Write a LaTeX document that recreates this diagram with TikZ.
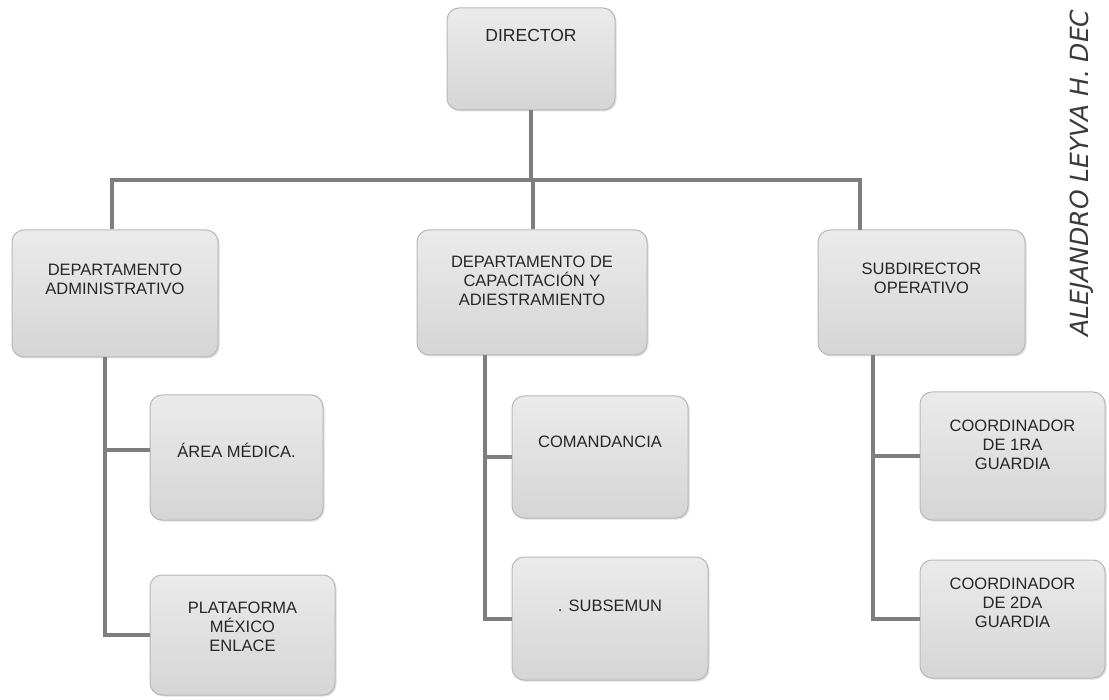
\documentclass[tikz,border=0pt]{standalone}
\usepackage{fontspec}
\setmainfont{Liberation Sans}
\newfontfamily\handfont{DejaVu Sans}
\usetikzlibrary{calc,shadows}
\definecolor{boxfill}{HTML}{E2E2E2}
\definecolor{boxfillb}{HTML}{D5D5D5}
\definecolor{boxline}{HTML}{B8B8B8}
\definecolor{connc}{HTML}{7E7E7E}
\definecolor{inkc}{HTML}{3A3A3A}
\tikzset{
  orgbox/.style={draw=boxline, line width=1pt, rounded corners=12pt,
    top color=boxfill!70!white, bottom color=boxfillb,
    drop shadow={opacity=0.25, shadow xshift=1.5pt, shadow yshift=-1.5pt},
    inner sep=0pt},
  lbl/.style={align=center, font=\fontsize{16.5}{19}\selectfont, text=black!85},
  conn/.style={draw=connc, line width=4pt},
  hand/.style={font=\handfont\itshape\fontsize{25}{27}\selectfont, text=inkc, rotate=90, anchor=west}
}
\begin{document}
\begin{tikzpicture}[x=1pt,y=-1pt]
\useasboundingbox (0,0) rectangle (1109,700);
\fill[white] (0,0) rectangle (1109,700);

\coordinate (admt) at (112,230);
\coordinate (capt) at (533,230);
\coordinate (subt) at (860,230);
\coordinate (admb) at (105,357);
\coordinate (capb) at (485,355);
\coordinate (subb) at (873,355);

% boxes
\node[orgbox, minimum width=168, minimum height=102] (dir) at (531,59) {};
\node[orgbox, minimum width=206, minimum height=127] (adm) at (115,293.5) {};
\node[orgbox, minimum width=230, minimum height=125] (cap) at (532,292.5) {};
\node[orgbox, minimum width=207, minimum height=125] (sub) at (921.5,292.5) {};
\node[orgbox, minimum width=173, minimum height=125] (med) at (236.5,457.5) {};
\node[orgbox, minimum width=185, minimum height=120] (pla) at (242.5,635) {};
\node[orgbox, minimum width=176, minimum height=122] (com) at (600,457) {};
\node[orgbox, minimum width=196, minimum height=123] (subs) at (610,618.5) {};
\node[orgbox, minimum width=185, minimum height=128] (c1) at (1012.5,456) {};
\node[orgbox, minimum width=185, minimum height=118] (c2) at (1012.5,619) {};

% connectors
\draw[conn] (dir.south) -- (dir.south |- 0,180);
\draw[conn] (adm.north -| admt) -- (admt |- 0,180) -- (subt |- 0,180) -- (subt);
\draw[conn] (cap.north -| capt) -- (capt |- 0,180);
\draw[conn] (admb) -- (admb |- pla.west) -- (pla.west);
\draw[conn] ($(med.west)+(0,-7)$) -- ($(med.west -| admb)+(0,-7)$);
\draw[conn] (capb) -- (capb |- subs.west) -- (subs.west);
\draw[conn] (com.west) -- (com.west -| capb);
\draw[conn] (subb) -- (subb |- c2.west) -- (c2.west);
\draw[conn] (c1.west) -- (c1.west -| subb);

% labels
\node[lbl, font=\fontsize{17.5}{20}\selectfont] (tdir) at ($(dir.center)+(0,-24)$) {DIRECTOR};
\node[lbl] (tadm) at ($(adm.center)+(0,-14)$) {DEPARTAMENTO\\ADMINISTRATIVO};
\node[lbl] (tcap) at ($(cap.center)+(0,-12)$) {DEPARTAMENTO DE\\CAPACITACIÓN Y\\ADIESTRAMIENTO};
\node[lbl] (tsub) at ($(sub.center)+(0,-14)$) {SUBDIRECTOR\\OPERATIVO};
\node[lbl] (tmed) at ($(med.center)+(0,-7)$) {ÁREA MÉDICA.};
\node[lbl] (tpla) at ($(pla.center)+(0,-8)$) {PLATAFORMA\\MÉXICO\\ENLACE};
\node[lbl] (tcom) at ($(com.center)+(0,-15)$) {COMANDANCIA};
\node[lbl] (tsubs) at ($(subs.center)+(0,-13)$) {. SUBSEMUN};
\node[lbl] (tc1) at ($(c1.center)+(0,-11)$) {COORDINADOR\\DE 1RA\\GUARDIA};
\node[lbl] (tc2) at ($(c2.center)+(0,-16)$) {COORDINADOR\\DE 2DA\\GUARDIA};

% handwritten note
\node[hand] (note) at (1082,340) {ALEJANDRO LEYVA H. DEC};
\end{tikzpicture}
\end{document}
